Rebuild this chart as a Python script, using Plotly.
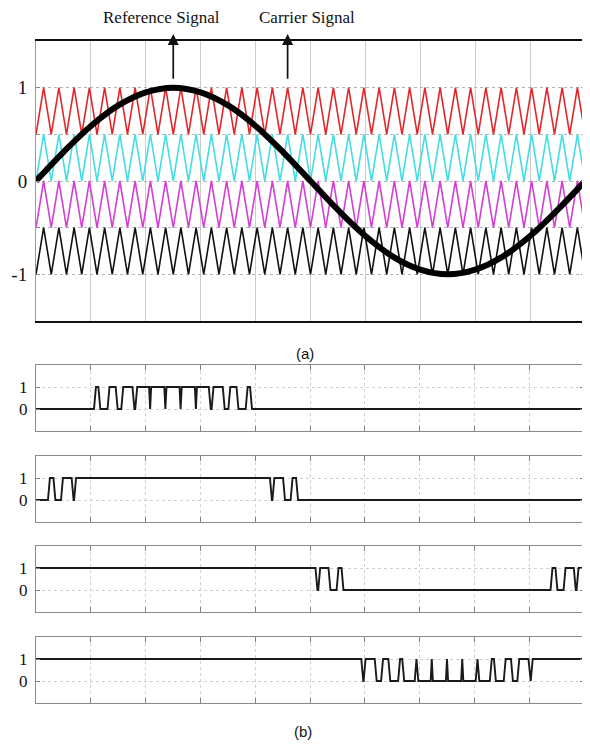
import plotly.graph_objects as go

# ---------------- data ----------------
# (a) reference signal samples (one cycle over the 10 grid divisions)
ref_x = [0, 0.5, 1, 1.5, 2, 2.5, 3, 3.5, 4, 4.5, 5, 5.5, 6, 6.5, 7, 7.5, 8, 8.5, 9, 9.5, 10]
ref_y = [0, 0.31, 0.59, 0.81, 0.95, 1.0, 0.95, 0.81, 0.59, 0.31, 0,
         -0.31, -0.59, -0.81, -0.95, -1.0, -0.95, -0.81, -0.59, -0.31, 0]

# (a) carrier signals: triangular, 36 cycles, stacked bands
carrier_cycles = 36
carrier_low = [0.5, 0.0, -0.5, -1.0]
carrier_high = [1.0, 0.5, 0.0, -0.5]
carrier_colors = ["#e3262b", "#45dde4", "#d43fd4", "#111111"]

# (b) gate signals: starting level and switching instants
pwm_start = [0, 0, 1, 1]
pwm_edges_1 = [1.076, 1.156, 1.323, 1.472, 1.574, 1.778, 1.829, 2.073, 2.092, 2.351, 2.371,
               2.629, 2.649, 2.908, 2.927, 3.171, 3.222, 3.426, 3.528, 3.677, 3.844, 3.924]
pwm_edges_2 = [0.236, 0.336, 0.474, 0.668, 0.713, 4.287, 4.332, 4.526, 4.664, 4.764]
pwm_edges_3 = [5.118, 5.168, 5.355, 5.503, 5.593, 9.407, 9.497, 9.645, 9.832, 9.882]
pwm_edges_4 = [5.954, 5.996, 6.199, 6.315, 6.447, 6.626, 6.701, 6.927, 6.960, 7.212, 7.232,
               7.490, 7.510, 7.768, 7.788, 8.040, 8.073, 8.299, 8.374, 8.553, 8.685, 8.801,
               9.004, 9.046]
pwm_edges = [pwm_edges_1, pwm_edges_2, pwm_edges_3, pwm_edges_4]

x_end = 10
grid_x = [1, 2, 3, 4, 5, 6, 7, 8, 9]

# ---------------- figure ----------------
OFF = 8                      # page body margin
W, H = 590 - OFF, 746 - OFF
fig = go.Figure()

def pxx(x):
    return (x - OFF) / W

def pyy(y):
    return 1 - (y - OFF) / H

# carriers
n_half = 2 * carrier_cycles
for lo, hi, col in zip(carrier_low, carrier_high, carrier_colors):
    xs = [x_end * i / n_half for i in range(n_half + 1)]
    ys = [lo if i % 2 == 0 else hi for i in range(n_half + 1)]
    fig.add_trace(go.Scatter(x=xs, y=ys, mode="lines", line=dict(color=col, width=1.6),
                             xaxis="x", yaxis="y", showlegend=False, hoverinfo="skip"))

# reference
fig.add_trace(go.Scatter(x=ref_x, y=ref_y, mode="lines",
                         line=dict(color="#000000", width=6, shape="spline", smoothing=1.0),
                         xaxis="x", yaxis="y", showlegend=False, hoverinfo="skip"))

# gate signals
R = 0.018
def wave(start, edges):
    xs, ys, lvl = [0], [start], start
    for i, e in enumerate(edges):
        prev = edges[i - 1] if i > 0 else 0
        nxt = edges[i + 1] if i < len(edges) - 1 else x_end
        h = min(R, (e - prev) / 2, (nxt - e) / 2)
        xs += [e - h, e + h]
        ys += [lvl, 1 - lvl]
        lvl = 1 - lvl
    xs.append(x_end)
    ys.append(lvl)
    return xs, ys

for k in range(4):
    xs, ys = wave(pwm_start[k], pwm_edges[k])
    fig.add_trace(go.Scatter(x=xs, y=ys, mode="lines", line=dict(color="#1a1a1a", width=1.9),
                             xaxis=f"x{k+2}", yaxis=f"y{k+2}", showlegend=False, hoverinfo="skip"))

serif = "Liberation Serif, Times New Roman, serif"

layout = dict(
    width=W, height=H, margin=dict(l=0, r=0, t=0, b=0),
    paper_bgcolor="white", plot_bgcolor="white",
    xaxis=dict(domain=[pxx(36), pxx(585)], range=[0, x_end], tickvals=grid_x, showticklabels=False,
               ticks="", showgrid=True, gridcolor="#cccccc", gridwidth=1,
               showline=True, linecolor="#111111", linewidth=2, mirror=True, zeroline=False),
    yaxis=dict(domain=[pyy(321), pyy(41)], range=[-1.5, 1.5],
               tickvals=[-1.5, -1, -0.5, 0, 0.5, 1, 1.5], ticktext=["", "-1", "", "0", "", "1", ""],
               ticks="inside", ticklen=4, tickcolor="#888888", showgrid=True, griddash="dot",
               gridcolor="#b5b5b5", showline=True, linecolor="#9a9a9a", linewidth=1, mirror="ticks",
               zeroline=False, ticklabelstandoff=4,
               tickfont=dict(family=serif, size=19, color="#111111")),
)

panels = [(365, 431), (456, 522), (546, 612), (637, 703)]
for k, (t, b) in enumerate(panels):
    layout[f"xaxis{k+2}"] = dict(domain=[pxx(36), pxx(584)], range=[0, x_end], tickvals=grid_x,
                                 showticklabels=False, ticks="inside", ticklen=5, tickcolor="#808080",
                                 showgrid=True, griddash="dot", gridcolor="#cfcfcf",
                                 showline=True, linecolor="#8a8a8a", linewidth=1.2, mirror="ticks",
                                 zeroline=False, anchor=f"y{k+2}")
    layout[f"yaxis{k+2}"] = dict(domain=[pyy(b), pyy(t)], range=[-1, 2], tickvals=[0, 1],
                                 ticktext=["0", "1"],
                                 ticks="inside", ticklen=4, tickcolor="#808080",
                                 showgrid=True, griddash="dot", gridcolor="#cfcfcf",
                                 showline=True, linecolor="#8a8a8a", linewidth=1.2, mirror="ticks",
                                 zeroline=False, anchor=f"x{k+2}", ticklabelstandoff=4,
                                 tickfont=dict(family=serif, size=17, color="#111111"))

fig.update_layout(**layout)

# annotations
ann = [
    dict(text="Reference Signal", x=pxx(161), y=pyy(17), xref="paper", yref="paper",
         showarrow=False, font=dict(family=serif, size=17, color="#111111"),
         xanchor="center", yanchor="middle"),
    dict(text="Carrier Signal", x=pxx(307), y=pyy(17), xref="paper", yref="paper",
         showarrow=False, font=dict(family=serif, size=17, color="#111111"),
         xanchor="center", yanchor="middle"),
    dict(text="", x=2.5, y=1.575, xref="x", yref="y", ax=2.5, ay=1.08, axref="x", ayref="y",
         showarrow=True, arrowhead=2, arrowsize=1.3, arrowwidth=1.7, arrowcolor="#111111"),
    dict(text="", x=4.583, y=1.575, xref="x", yref="y", ax=4.583, ay=1.08, axref="x", ayref="y",
         showarrow=True, arrowhead=2, arrowsize=1.3, arrowwidth=1.7, arrowcolor="#111111"),
    dict(text="(a)", x=pxx(305), y=pyy(353), xref="paper", yref="paper", showarrow=False,
         font=dict(family="Liberation Sans, Arial, sans-serif", size=15, color="#111111"),
         xanchor="center", yanchor="middle"),
    dict(text="(b)", x=pxx(303), y=pyy(731), xref="paper", yref="paper", showarrow=False,
         font=dict(family="Liberation Sans, Arial, sans-serif", size=15, color="#111111"),
         xanchor="center", yanchor="middle"),
]
fig.update_layout(annotations=ann)

fig.write_html("out.html")
